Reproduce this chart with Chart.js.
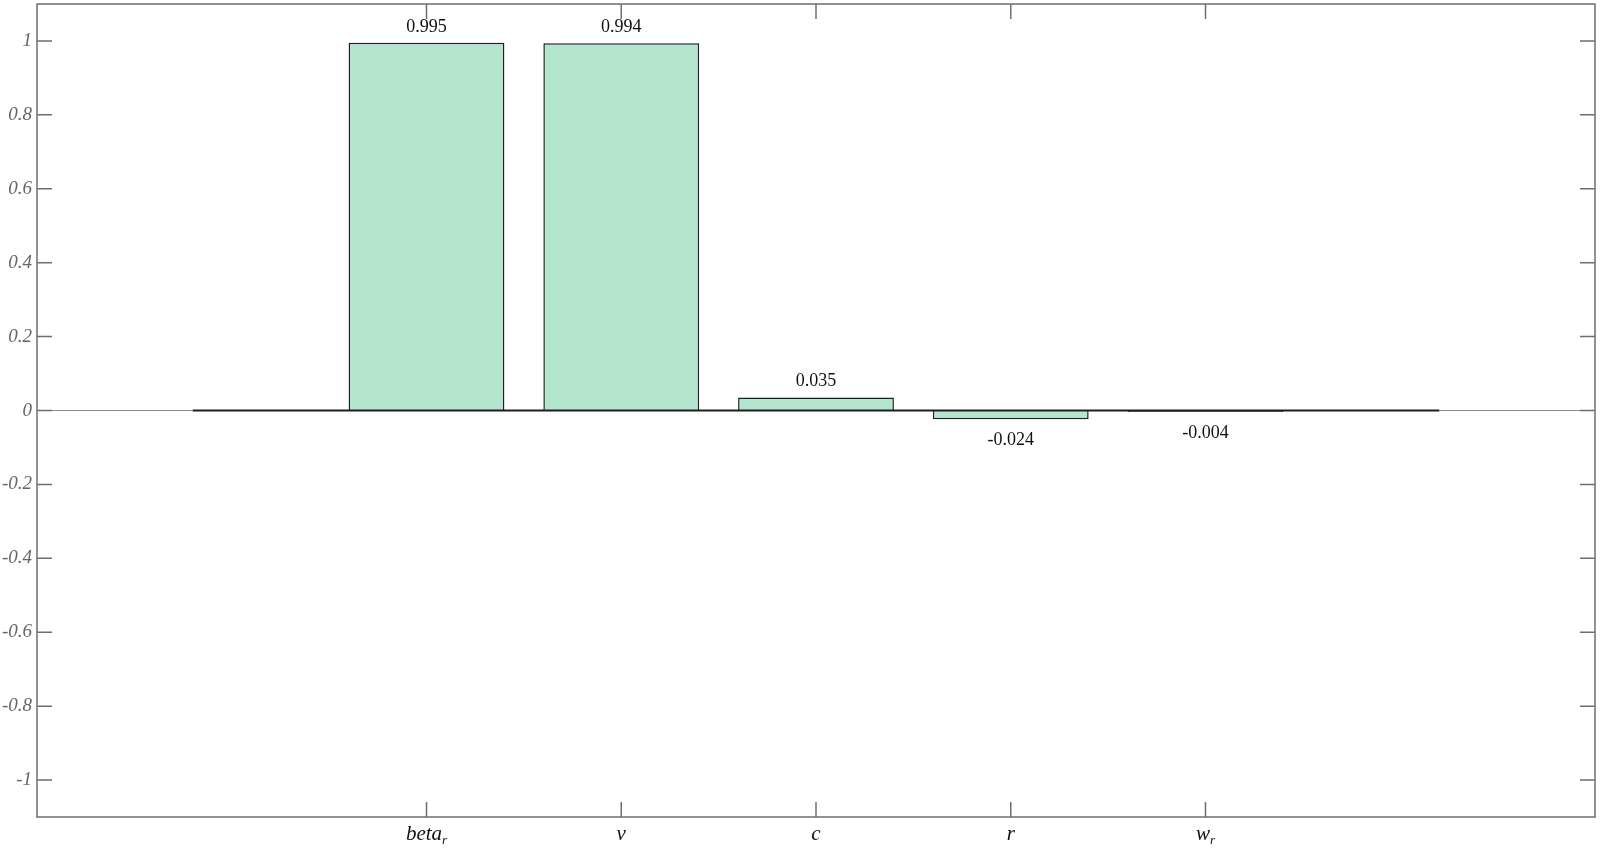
<!DOCTYPE html>
<html>
<head>
<meta charset="utf-8">
<script src="https://cdn.jsdelivr.net/npm/chart.js@4.4.0/dist/chart.umd.min.js"></script>
<style>
  html, body { margin: 0; padding: 0; background: #fff; }
  #wrap { width: 1600px; height: 851px; }
</style>
</head>
<body>
<div id="wrap"><canvas id="barChart"></canvas></div>
<script>
// bar positions on the x axis
const positions = [2, 3, 4, 5, 6];
const categories = ['beta_r', 'v', 'c', 'r', 'w_r'];
const values = [0.995, 0.994, 0.035, -0.024, -0.004];
const valueLabels = ['0.995', '0.994', '0.035', '-0.024', '-0.004'];
const yTicks = [-1, -0.8, -0.6, -0.4, -0.2, 0, 0.2, 0.4, 0.6, 0.8, 1];
const xRange = [0, 8];
const yRange = [-1.1, 1.1];

const axisColor = '#6e6e6e';
const serif = '"Liberation Serif", "DejaVu Serif", serif';

// axes box, inward ticks, labels, baseline and value labels (MATLAB look)
const matlabAxes = {
  id: 'matlabAxes',
  beforeDatasetsDraw(chart) {
    const { ctx, chartArea: a, scales: { y } } = chart;
    ctx.save();
    // thin zero line across the axes
    ctx.strokeStyle = '#8a8a8a';
    ctx.lineWidth = 1;
    ctx.beginPath();
    ctx.moveTo(a.left, y.getPixelForValue(0));
    ctx.lineTo(a.right, y.getPixelForValue(0));
    ctx.stroke();
    ctx.restore();
  },
  afterDatasetsDraw(chart) {
    const { ctx, chartArea: a, scales: { x, y } } = chart;
    ctx.save();

    // thick baseline, spans one slot beyond the outer bars
    const y0 = y.getPixelForValue(0);
    ctx.strokeStyle = '#1e1e1e';
    ctx.lineWidth = 2;
    ctx.beginPath();
    ctx.moveTo(x.getPixelForValue(positions[0] - 1.2), y0);
    ctx.lineTo(x.getPixelForValue(positions[positions.length - 1] + 1.2), y0);
    ctx.stroke();

    // box
    ctx.strokeStyle = axisColor;
    ctx.lineWidth = 1.5;
    ctx.strokeRect(a.left, a.top, a.right - a.left, a.bottom - a.top);

    // y ticks both sides + labels
    const tl = 15;
    ctx.font = 'italic 19px ' + serif;
    ctx.fillStyle = '#666';
    ctx.textAlign = 'right';
    ctx.textBaseline = 'middle';
    yTicks.forEach(v => {
      const py = y.getPixelForValue(v);
      ctx.beginPath();
      ctx.moveTo(a.left, py); ctx.lineTo(a.left + tl, py);
      ctx.moveTo(a.right, py); ctx.lineTo(a.right - tl, py);
      ctx.stroke();
      ctx.fillText(String(v), a.left - 5, py);
    });

    // x ticks + labels with subscripts
    ctx.fillStyle = '#111';
    ctx.textBaseline = 'alphabetic';
    categories.forEach((c, i) => {
      const px = x.getPixelForValue(positions[i]);
      ctx.beginPath();
      ctx.moveTo(px, a.bottom); ctx.lineTo(px, a.bottom - tl);
      ctx.moveTo(px, a.top); ctx.lineTo(px, a.top + tl);
      ctx.stroke();
      const [base, sub] = c.split('_');
      ctx.font = 'italic 21px ' + serif;
      const bw = ctx.measureText(base).width;
      ctx.font = 'italic 13px ' + serif;
      const sw = sub ? ctx.measureText(sub).width : 0;
      const start = px - (bw + sw) / 2;
      ctx.textAlign = 'left';
      ctx.font = 'italic 21px ' + serif;
      ctx.fillText(base, start, a.bottom + 23);
      if (sub) {
        ctx.font = 'italic 13px ' + serif;
        ctx.fillText(sub, start + bw, a.bottom + 27);
      }
    });

    // value labels
    ctx.font = '18px ' + serif;
    ctx.fillStyle = '#111';
    ctx.textAlign = 'center';
    ctx.textBaseline = 'middle';
    values.forEach((v, i) => {
      const px = x.getPixelForValue(positions[i]);
      const py = y.getPixelForValue(v);
      ctx.fillText(valueLabels[i], px, v >= 0 ? py - 16 : py + 21);
    });

    ctx.restore();
  }
};

new Chart(document.getElementById('barChart').getContext('2d'), {
  type: 'bar',
  data: {
    datasets: [{
      data: positions.map((p, i) => ({ x: p, y: values[i] })),
      backgroundColor: 'rgb(180, 230, 207)',
      borderColor: '#1e1e1e',
      borderWidth: 1.5,
      categoryPercentage: 1,
      barPercentage: 0.8
    }]
  },
  options: {
    responsive: true,
    maintainAspectRatio: false,
    animation: false,
    layout: { padding: { left: 37, top: 4, right: 5, bottom: 34 } },
    plugins: { legend: { display: false }, tooltip: { enabled: false } },
    scales: {
      x: { type: 'linear', offset: false, min: xRange[0], max: xRange[1], ticks: { stepSize: 1 }, display: false },
      y: { min: yRange[0], max: yRange[1], ticks: { stepSize: 0.2 }, display: false }
    }
  },
  plugins: [matlabAxes]
});
</script>
</body>
</html>
